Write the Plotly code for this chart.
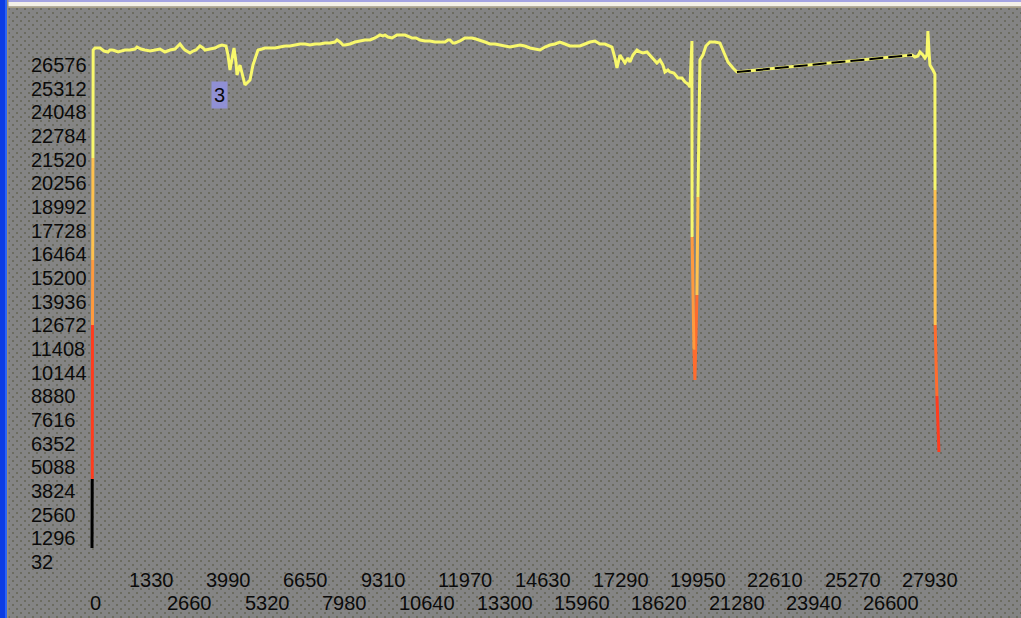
import base64
import struct
import zlib

import plotly.graph_objects as go

W, H = 1021, 618

# ---- tick labels ----
x_ticks = [0, 1330, 2660, 3990, 5320, 6650, 7980, 9310, 10640, 11970, 13300,
           14630, 15960, 17290, 18620, 19950, 21280, 22610, 23940, 25270, 26600, 27930]
y_ticks = [32, 1296, 2560, 3824, 5088, 6352, 7616, 8880, 10144, 11408, 12672,
           13936, 15200, 16464, 17728, 18992, 20256, 21520, 22784, 24048, 25312, 26576]

# ---- series (sample index, value) ----
sample_x = [0, 8, 16, 24, 32, 40,
            103, 275, 413, 550, 619, 722, 894, 1032, 1135, 1307, 1479, 1548, 1685, 1823,
            1995, 2167, 2339, 2510, 2682, 2854, 2958, 3026, 3129, 3198, 3370, 3473, 3577,
            3714, 3817, 3886, 4058, 4230, 4368, 4471, 4608, 4677, 4746, 4815, 4883, 4952,
            4987, 5090, 5193, 5262, 5365, 5434, 5537, 5640, 5709, 5846, 5949, 6121, 6293,
            6465, 6637, 6809, 6981, 7153, 7325, 7497, 7669, 7841, 8013, 8185, 8357, 8426,
            8529, 8632, 8701, 8873, 9045, 9217, 9388, 9560, 9732, 9904, 10007, 10076,
            10179, 10317, 10420, 10489, 10592, 10764, 10936, 11005, 11142, 11280, 11452,
            11624, 11796, 11968, 12140, 12243, 12312, 12415, 12484, 12656, 12827, 12931,
            13068, 13206, 13343, 13515, 13687, 13859, 14031, 14203, 14375, 14547, 14719,
            14891, 15063, 15235, 15407, 15579, 15751, 15923, 16095, 16266, 16438, 16610,
            16782, 16954, 17126, 17298, 17470, 17642, 17745, 17883, 17986, 18055, 18158,
            18261, 18330, 18433, 18502, 18605, 18743, 18846, 18949, 19087, 19190, 19293,
            19430, 19534, 19637, 19706, 19809, 19878, 20015, 20153, 20290, 20394, 20497,
            20566, 20634, 20640, 20703, 20737, 20806, 20841, 20875, 20909, 21012, 21115,
            21253, 21425, 21597, 21666, 21769, 21872, 22044, 22182,
            28200, 28303, 28406, 28475, 28578, 28647, 28716, 28750, 28785, 28819, 28922,
            28991, 28995, 29000, 29060, 29129]
sample_y = [780, 4464, 12688, 16159, 21606, 27373,
            27480, 27480, 27320, 27266, 27373, 27373, 27266, 27320, 27373, 27373, 27426, 27533, 27426, 27373,
            27320, 27373, 27426, 27266, 27373, 27426, 27587, 27693, 27480, 27373, 27213, 27320, 27373,
            27587, 27480, 27373, 27426, 27480, 27587, 27640, 27587, 27106, 26305, 26946, 27480, 26732,
            26038, 26572, 25878, 25504, 25664, 25771, 26572, 27106, 27373, 27426, 27480, 27480, 27480,
            27533, 27587, 27587, 27640, 27693, 27693, 27640, 27693, 27693, 27747, 27747, 27800, 27907,
            27800, 27640, 27640, 27693, 27800, 27854, 27907, 27907, 28014, 28174, 28121, 28174,
            28067, 28014, 28121, 28174, 28174, 28174, 28067, 28014, 28014, 27907, 27854,
            27854, 27800, 27800, 27800, 27907, 27907, 27747, 27747, 27854, 28014, 28014,
            28014, 27960, 27907, 27800, 27693, 27693, 27640, 27587, 27533, 27587, 27640,
            27587, 27480, 27426, 27373, 27533, 27640, 27693, 27800, 27693, 27587, 27587,
            27587, 27693, 27800, 27854, 27693, 27693, 27640, 27533, 26946, 26412, 27106,
            26839, 26679, 26946, 26732, 27106, 27373, 27266, 27213, 27266, 27106, 26946,
            26679, 26839, 26572, 26198, 26305, 26198, 26145, 25878, 25878, 25664, 25557,
            25397, 27854, 17387, 11363, 9751, 14290, 19525, 23635, 26839, 27106, 27587,
            27800, 27800, 27747, 27480, 27106, 26732, 26412, 26198,
            27106, 26999, 27053, 27266, 27106, 26946, 27106, 28388, 27373, 26572, 26305,
            26091, 19899, 12688, 8897, 5907]

event_label = "3"
event_x, event_y = 4385, 24970

# ---- pixel geometry of the plot (layout, not data) ----
PX0 = 92.0                 # pixel column of sample 0
PX_PER_X = 38.67 / 1330.0  # horizontal pixels per sample
PY_REF = 562.0             # pixel row of value 32
PY_PER_Y = 23.67 / 1264.0  # vertical pixels per unit

x_range = [-PX0 / PX_PER_X, (W - PX0) / PX_PER_X]
y_range = [32 - (H - PY_REF) / PY_PER_Y, 32 + PY_REF / PY_PER_Y]

BG = '#838383'
TXT = '#0a0a0a'
FONT = 'Liberation Sans'


def stipple_png(w, h, base=(0x84, 0x84, 0x84), dot=(0x6c, 0x6c, 0x60)):
    """Gray background with the sparse dotted texture of the original window."""
    def row(offset):
        px = bytearray()
        for x in range(w):
            px += bytes(dot if (x + offset) % 8 in (0, 1) else base)
        return bytes(px)
    plain = bytes(bytearray(base) * w)
    rows_a, rows_b = row(0), row(4)
    raw = bytearray()
    for y in range(h):
        raw += b'\x00'
        m = y % 8
        if m in (0, 1):
            raw += rows_a
        elif m in (4, 5):
            raw += rows_b
        else:
            raw += plain

    def chunk(tag, data):
        return (struct.pack('>I', len(data)) + tag + data +
                struct.pack('>I', zlib.crc32(tag + data) & 0xffffffff))
    png = (b'\x89PNG\r\n\x1a\n' +
           chunk(b'IHDR', struct.pack('>IIBBBBB', w, h, 8, 2, 0, 0, 0)) +
           chunk(b'IDAT', zlib.compress(bytes(raw), 9)) +
           chunk(b'IEND', b''))
    return 'data:image/png;base64,' + base64.b64encode(png).decode()


def band_color(v):
    if v < 4000:
        return '#000000'
    if v < 9000:
        return '#ff3c1e'
    if v < 12672:
        return '#ff6c2e'
    if v < 15500:
        return '#ff9a3e'
    if v < 20000:
        return '#ffc24e'
    return '#f8f86c'


fig = go.Figure()

# group segments by colour
groups = {}
for i in range(len(sample_x) - 1):
    c = band_color((sample_y[i] + sample_y[i + 1]) / 2)
    gx, gy = groups.setdefault(c, ([], []))
    if gx and gx[-1] == sample_x[i] and gy[-1] == sample_y[i]:
        gx.append(sample_x[i + 1]); gy.append(sample_y[i + 1])
    else:
        if gx:
            gx.append(None); gy.append(None)
        gx += [sample_x[i], sample_x[i + 1]]
        gy += [sample_y[i], sample_y[i + 1]]

draw_order = ['#000000', '#ff3c1e', '#ff6c2e', '#ff9a3e', '#ffc24e', '#f8f86c']
for c in draw_order:
    if c in groups:
        gx, gy = groups[c]
        fig.add_trace(go.Scatter(x=gx, y=gy, mode='lines',
                                 line=dict(color=c, width=3),
                                 hoverinfo='skip', showlegend=False))

# dashed connector over the data gap
for i in range(len(sample_x) - 1):
    if sample_x[i + 1] - sample_x[i] > 3000:
        fig.add_trace(go.Scatter(x=[sample_x[i], sample_x[i + 1]],
                                 y=[sample_y[i], sample_y[i + 1]], mode='lines',
                                 line=dict(color='#000000', width=2, dash='14px,5px'),
                                 hoverinfo='skip', showlegend=False))

annotations = []
for k, v in enumerate(x_ticks):
    row_py = 603 if k % 2 == 0 else 580
    annotations.append(dict(x=v, y=1 - row_py / H, xref='x', yref='paper',
                            text=str(v), showarrow=False, xanchor='left',
                            yanchor='middle', xshift=-4,
                            font=dict(family=FONT, size=20, color=TXT)))
for v in y_ticks:
    annotations.append(dict(x=29 / W, y=v, xref='paper', yref='y',
                            text=str(v), showarrow=False, xanchor='left',
                            yanchor='middle',
                            font=dict(family=FONT, size=20, color=TXT)))
annotations.append(dict(x=event_x, y=event_y, xref='x', yref='y', text=event_label,
                        showarrow=False, bgcolor='#9090d4', borderpad=2,
                        font=dict(family=FONT, size=20, color=TXT)))


def px_rect(x0, y0, x1, y1, color):
    return dict(type='rect', xref='paper', yref='paper', layer='above',
                x0=x0 / W, x1=x1 / W, y0=1 - y1 / H, y1=1 - y0 / H,
                fillcolor=color, line=dict(width=0))


shapes = [
    px_rect(0, 0, W, 2, '#a4a4e2'),
    px_rect(0, 2, W, 6.5, '#f3f0e8'),
    px_rect(0, 6.5, W, 8, '#a8a088'),
    px_rect(0, 0, 5, H, '#0c3ce4'),
    px_rect(5, 0, 7, H, '#2c64f4'),
    px_rect(7, 0, 8.5, H, '#98907c'),
]

fig.update_layout(
    width=W, height=H,
    margin=dict(l=0, r=0, t=0, b=0),
    paper_bgcolor=BG, plot_bgcolor='rgba(0,0,0,0)',
    showlegend=False,
    xaxis=dict(range=x_range, visible=False, fixedrange=True),
    yaxis=dict(range=y_range, visible=False, fixedrange=True),
    annotations=annotations,
    shapes=shapes,
    images=[dict(source=stipple_png(W, H), xref='paper', yref='paper',
                 x=0, y=1, sizex=1, sizey=1, xanchor='left', yanchor='top',
                 sizing='stretch', layer='below')],
)

fig.write_html("out.html", config={'displayModeBar': False},
               post_script="document.body.style.margin='0';"
                           "document.body.style.overflow='hidden';")
